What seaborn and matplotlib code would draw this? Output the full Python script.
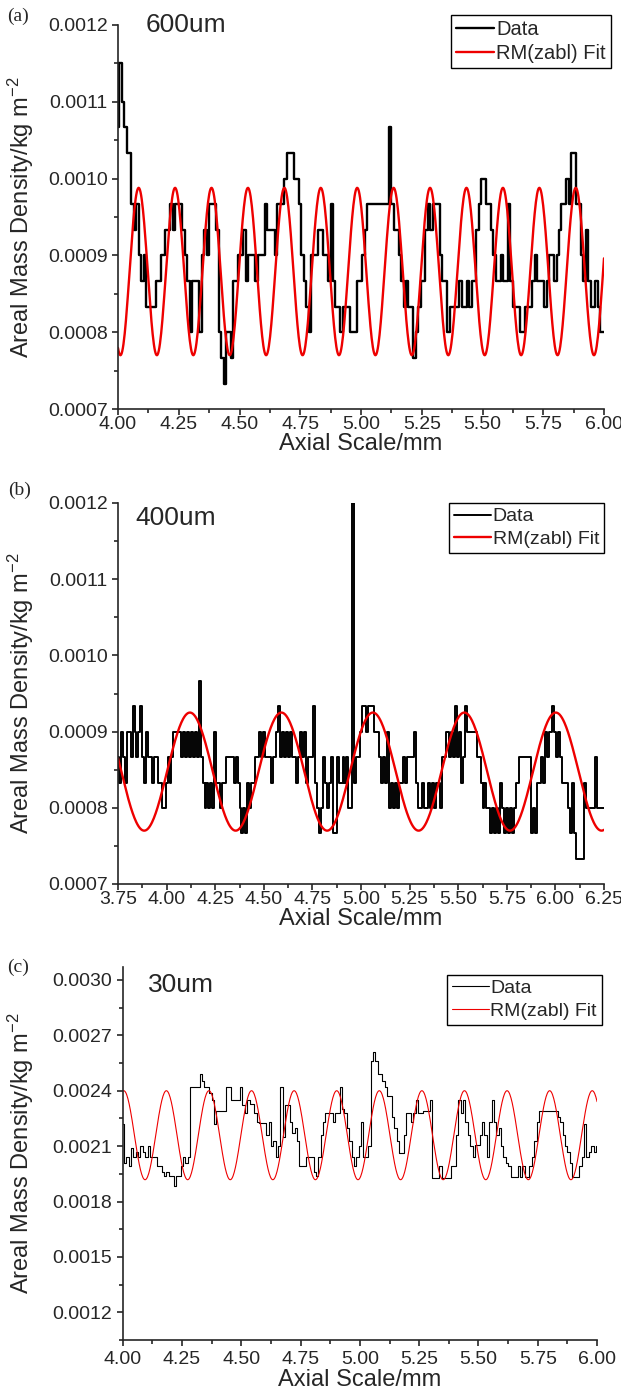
import numpy as np
import pandas as pd
import matplotlib
matplotlib.use("Agg")
import matplotlib.pyplot as plt
import seaborn as sns
from matplotlib.ticker import MultipleLocator, FormatStrFormatter

# ------------------------------------------------------
# Values
# areal mass density in units of 1e-4 kg m^-2, one sample every 0.01 mm
# ------------------------------------------------------
STEP = 0.01

a_start = 4.00
a_vals = [
    10.67, 11.5, 11.0, 10.67, 10.33, 10.33, 9.67, 9.33, 9.67, 9.0,
    8.67, 9.0, 8.33, 8.33, 8.33, 8.33, 8.67, 8.67, 9.0, 9.0,
    9.33, 9.33, 9.67, 9.33, 9.67, 9.67, 9.67, 9.33, 9.0, 8.67,
    8.0, 8.67, 8.67, 8.67, 8.0, 9.0, 9.33, 9.0, 9.67, 9.67,
    9.67, 9.33, 8.0, 7.67, 7.33, 8.0, 8.0, 7.67, 8.67, 8.67,
    9.0, 9.0, 9.33, 8.67, 9.0, 9.0, 9.0, 8.67, 9.0, 9.0,
    9.0, 9.67, 9.33, 9.33, 9.33, 9.0, 9.67, 9.67, 9.67, 10.0,
    10.33, 10.33, 10.33, 10.0, 10.0, 9.67, 9.0, 8.67, 8.33, 8.0,
    9.0, 9.0, 9.0, 9.33, 9.33, 9.0, 9.0, 8.67, 9.67, 8.67,
    8.33, 8.33, 8.0, 8.33, 8.33, 8.33, 8.0, 8.0, 8.0, 8.67,
    8.67, 9.0, 9.33, 9.67, 9.67, 9.67, 9.67, 9.67, 9.67, 9.67,
    9.67, 9.67, 10.67, 9.67, 9.33, 9.33, 9.0, 8.67, 8.33, 8.67,
    8.33, 8.33, 7.67, 8.0, 8.33, 8.67, 8.67, 9.33, 9.67, 9.33,
    9.67, 9.67, 9.67, 9.0, 8.67, 8.67, 8.0, 8.33, 8.33, 8.33,
    8.33, 8.67, 8.33, 8.33, 8.67, 8.33, 8.67, 8.67, 9.33, 9.67,
    10.0, 10.0, 9.67, 9.67, 9.33, 9.0, 8.67, 8.67, 9.0, 8.67,
    8.67, 9.67, 8.67, 8.33, 8.33, 8.33, 8.0, 8.0, 8.33, 8.33,
    8.33, 8.67, 9.0, 8.67, 8.67, 8.67, 8.33, 8.67, 9.0, 9.0,
    8.67, 9.0, 9.33, 9.67, 9.67, 10.0, 9.67, 10.33, 10.33, 9.67,
    9.67, 9.0, 8.67, 9.33, 8.67, 8.33, 8.33, 8.67, 8.33, 8.0,
    8.0,
]

b_start = 3.75
b_vals = [
    8.67, 8.33, 9.0, 8.67, 8.33, 9.0, 9.0, 8.67, 9.33, 9.0,
    8.67, 9.0, 9.33, 8.67, 8.33, 9.0, 8.67, 8.67, 8.33, 8.67,
    8.67, 8.33, 8.33, 8.0, 8.0, 8.33, 8.67, 8.33, 8.67, 9.0,
    9.0, 9.0, 9.0, 8.67, 9.0, 8.67, 9.0, 8.67, 9.0, 8.67,
    9.0, 8.67, 9.67, 8.67, 8.33, 8.0, 8.33, 8.0, 8.33, 8.0,
    9.0, 8.33, 8.33, 8.0, 8.33, 8.33, 8.67, 8.67, 8.67, 8.67,
    8.33, 8.67, 8.33, 8.0, 7.67, 8.0, 7.67, 8.33, 8.0, 8.33,
    8.33, 8.67, 8.67, 9.0, 8.67, 9.0, 8.67, 8.67, 8.67, 8.33,
    8.67, 8.67, 9.0, 9.33, 8.67, 9.0, 8.67, 9.0, 8.67, 9.0,
    8.67, 8.67, 8.33, 8.67, 9.0, 8.67, 9.0, 8.33, 8.67, 8.67,
    8.67, 9.33, 8.33, 8.0, 7.67, 8.0, 8.67, 8.33, 8.0, 8.33,
    8.67, 7.67, 7.67, 8.67, 8.33, 8.33, 8.67, 8.33, 8.67, 8.0,
    8.0, 12.0, 8.33, 8.67, 8.67, 9.0, 9.33, 9.33, 9.0, 9.33,
    9.33, 9.33, 9.0, 9.0, 9.0, 8.67, 8.33, 8.67, 8.33, 9.0,
    8.0, 8.33, 8.0, 8.33, 8.0, 8.33, 8.33, 8.67, 8.33, 8.67,
    8.67, 8.67, 8.67, 9.0, 8.33, 8.0, 8.0, 8.33, 8.0, 8.0,
    8.33, 8.0, 8.33, 8.0, 8.33, 8.33, 8.0, 8.67, 8.67, 9.0,
    9.0, 8.67, 9.0, 8.67, 9.33, 8.67, 9.0, 8.33, 8.67, 9.33,
    9.0, 9.0, 9.0, 9.0, 9.0, 8.67, 8.67, 8.33, 8.0, 8.33,
    8.0, 8.0, 7.67, 8.0, 7.67, 8.0, 7.67, 8.33, 8.0, 7.67,
    8.0, 7.67, 8.0, 7.67, 8.0, 8.33, 8.33, 8.67, 8.67, 8.67,
    8.67, 8.67, 8.67, 7.67, 8.0, 7.67, 8.33, 8.33, 8.67, 8.33,
    9.0, 8.67, 9.0, 9.0, 9.33, 9.0, 8.67, 9.0, 8.67, 8.33,
    8.33, 8.33, 8.0, 7.67, 8.33, 7.67, 7.33, 7.33, 7.33, 7.33,
    8.33, 8.0, 8.0, 8.0, 8.0, 8.0, 8.67, 8.0, 8.0, 8.0,
    8.0,
]

c_start = 4.00
c_vals = [
    22.2, 20.1, 20.4, 19.9, 20.9, 20.4, 20.7, 20.4, 21.0, 20.7,
    20.4, 21.0, 20.4, 20.4, 20.4, 19.9, 19.9, 19.6, 19.4, 19.6,
    19.4, 19.4, 18.85, 19.4, 19.4, 19.9, 20.4, 20.1, 20.4, 24.2,
    24.2, 24.2, 24.2, 24.9, 24.55, 24.2, 24.2, 23.85, 23.5, 22.2,
    22.9, 22.9, 22.9, 22.9, 24.2, 24.2, 23.5, 23.5, 23.5, 23.5,
    24.2, 23.2, 22.8, 23.5, 23.3, 23.3, 22.8, 22.3, 22.25, 22.25,
    22.25, 21.6, 22.3, 21.0, 21.3, 20.4, 21.0, 24.2, 21.5, 23.2,
    23.2, 22.3, 21.7, 22.0, 21.3, 19.9, 19.9, 19.9, 20.4, 20.4,
    20.4, 19.6, 19.4, 20.4, 21.6, 22.3, 22.8, 22.8, 22.8, 22.3,
    22.8, 22.8, 24.2, 23.0, 22.8, 22.0, 21.3, 20.4, 19.9, 20.4,
    21.0, 22.3, 20.4, 20.4, 21.0, 25.6, 26.1, 25.6, 24.9, 24.9,
    24.55, 24.2, 23.7, 23.7, 22.6, 22.0, 21.3, 20.6, 20.6, 21.6,
    22.8, 22.8, 22.3, 22.8, 23.5, 22.8, 22.8, 22.9, 22.9, 22.9,
    23.5, 19.3, 19.3, 19.3, 19.9, 19.3, 19.3, 19.3, 19.3, 19.9,
    19.9, 21.6, 23.5, 22.8, 23.5, 22.3, 21.6, 21.0, 20.4, 21.05,
    21.05, 21.6, 22.3, 21.6, 20.4, 22.3, 23.5, 22.3, 21.6, 22.0,
    21.0, 20.4, 20.1, 19.9, 19.35, 19.35, 19.35, 19.9, 19.35, 19.9,
    19.35, 19.35, 19.9, 20.4, 21.3, 22.3, 22.9, 22.9, 22.9, 22.9,
    22.9, 22.9, 22.9, 22.9, 22.6, 22.3, 21.6, 21.0, 20.7, 20.1,
    19.35, 19.35, 19.35, 19.9, 20.4, 22.2, 20.4, 20.7, 21.0, 20.7,
    21.0,
]

# RM(zabl) fit (same units): mean, amplitude,
# wavelength in mm and position of the first crest in mm
fit_mean = [8.79, 8.475, 21.59]
fit_amp = [1.09, 0.775, 2.41]
fit_wave = [0.1499, 0.4705, 0.1795]
fit_crest = [4.085, 4.12, 4.005]

panel_tags = ["(a)", "(b)", "(c)"]
panel_sizes = ["600um", "400um", "30um"]
x_limits = [(4.0, 6.0), (3.75, 6.25), (4.0, 6.0)]
y_limits = [(0.0007, 0.0012), (0.0007, 0.0012), (0.00105, 0.00307)]
y_major = [0.0001, 0.0001, 0.0003]
x_ticks = [np.arange(4.0, 6.01, 0.25), np.arange(3.75, 6.26, 0.25), np.arange(4.0, 6.01, 0.25)]

# ------------------------------------------------------
# Style
# ------------------------------------------------------
sns.set_style("ticks")
plt.rcParams["font.family"] = ["Liberation Sans", "DejaVu Sans"]
plt.rcParams["mathtext.fontset"] = "custom"
plt.rcParams["mathtext.rm"] = "Liberation Sans"
plt.rcParams["mathtext.default"] = "regular"

W, H = 621, 1396
fig = plt.figure(figsize=(W / 100, H / 100), dpi=100)

# axes boxes in pixels: left, top, right, bottom
boxes_px = [
    (118, 25, 604, 409),
    (118, 503, 604, 884),
    (122.6, 967, 597.1, 1340),
]
data_lw = [1.7, 1.4, 0.8]
fit_lw = [1.7, 1.7, 0.8]
legend_anchor = [(1.014, 1.026), (1.0, 1.0), (1.010, 0.979)]
legend_size = [14.5, 14, 14]
size_text_pos = [(0.056, 0.981), (0.035, 0.942), (0.054, 0.932)]
tag_pos = [(0.029, 0.9885), (0.032, 0.649), (0.029, 0.307)]
xtick_pad = [0.5, 0.5, 3.5]
xlabel_pad = [0, 0, 1]

series = [(a_start, a_vals), (b_start, b_vals), (c_start, c_vals)]

for i, (l, t, r, b) in enumerate(boxes_px):
    ax = fig.add_axes((l / W, 1 - b / H, (r - l) / W, (b - t) / H))
    start, vals = series[i]
    df = pd.DataFrame({
        "x": np.round(start + STEP * np.arange(len(vals)), 3),
        "density": np.array(vals) * 1e-4,
    })
    x0, x1 = x_limits[i]
    xf = np.linspace(x0, x1, 800)
    fit = pd.DataFrame({
        "x": xf,
        "density": (fit_mean[i] + fit_amp[i] * np.cos(2 * np.pi * (xf - fit_crest[i]) / fit_wave[i])) * 1e-4,
    })

    sns.lineplot(data=df, x="x", y="density", ax=ax, color="black",
                 linewidth=data_lw[i], drawstyle="steps-mid", label="Data")
    sns.lineplot(data=fit, x="x", y="density", ax=ax, color="#ee0000",
                 linewidth=fit_lw[i], label="RM(zabl) Fit")

    ax.set_xlim(x0, x1)
    ax.set_ylim(*y_limits[i])
    ax.set_xticks(x_ticks[i])
    ax.xaxis.set_major_formatter(FormatStrFormatter("%.2f"))
    ax.xaxis.set_minor_locator(MultipleLocator(0.125))
    ax.yaxis.set_major_locator(MultipleLocator(y_major[i]))
    ax.yaxis.set_minor_locator(MultipleLocator(y_major[i] / 2))
    ax.yaxis.set_major_formatter(FormatStrFormatter("%.4f"))

    for side in ["top", "right"]:
        ax.spines[side].set_visible(False)
    for side in ["left", "bottom"]:
        ax.spines[side].set_linewidth(1.2)
    ax.tick_params(which="major", direction="out", length=4.5, width=1.2, labelsize=14)
    ax.tick_params(which="minor", direction="out", length=3, width=1.2)
    ax.tick_params(axis="x", which="major", pad=xtick_pad[i])
    ax.tick_params(axis="y", which="major", pad=3)

    ax.set_xlabel("Axial Scale/mm", fontsize=17, labelpad=xlabel_pad[i])
    ax.set_ylabel("Areal Mass Density/kg m$^{-2}$", fontsize=17)
    ax.yaxis.set_label_coords((36 - l) / (r - l), 0.5)

    leg = ax.legend(loc="upper right", bbox_to_anchor=legend_anchor[i], borderaxespad=0,
                    fontsize=legend_size[i], frameon=True, fancybox=False, framealpha=1,
                    edgecolor="black", handlelength=1.9, handletextpad=0.1,
                    labelspacing=0.25, borderpad=0.25)
    leg.get_frame().set_linewidth(1.0)

    ax.text(size_text_pos[i][0], size_text_pos[i][1], panel_sizes[i], transform=ax.transAxes,
            fontsize=19, ha="left", va="baseline")
    fig.text(tag_pos[i][0], tag_pos[i][1], panel_tags[i], fontsize=14,
             family=["Liberation Serif", "DejaVu Serif"], ha="center", va="center")

fig.savefig("out.png", dpi=100)
